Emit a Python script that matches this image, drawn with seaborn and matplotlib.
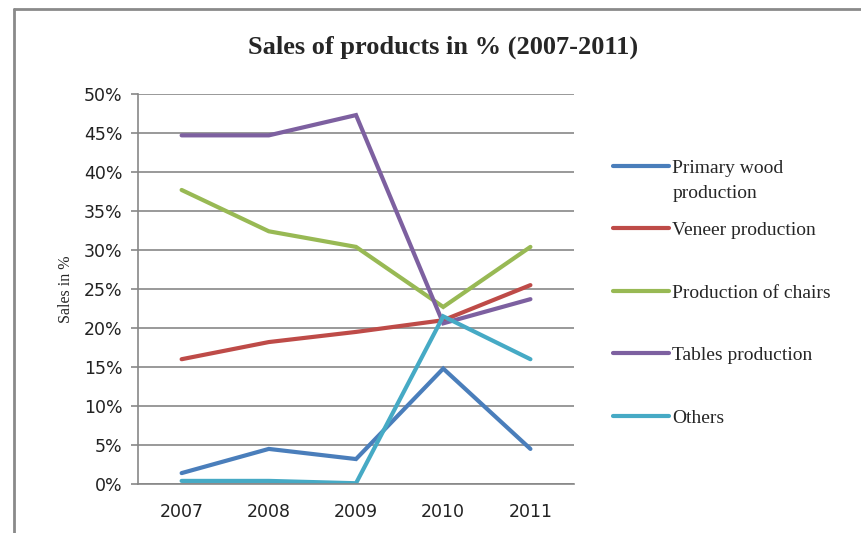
import pandas as pd
import seaborn as sns
import matplotlib.pyplot as plt
from matplotlib.lines import Line2D

# --- data ---
years = [2007, 2008, 2009, 2010, 2011]
series_names = ["Primary wood production", "Veneer production",
                "Production of chairs", "Tables production", "Others"]
primary_wood = [1.4, 4.5, 3.2, 14.8, 4.5]
veneer = [16.0, 18.2, 19.5, 21.0, 25.5]
chairs = [37.7, 32.4, 30.4, 22.7, 30.4]
tables = [44.7, 44.7, 47.3, 20.6, 23.7]
others = [0.4, 0.4, 0.1, 21.5, 16.0]
colors = ["#4A7EBB", "#BE4B48", "#98B954", "#7D60A0", "#46AAC5"]
y_ticks = list(range(0, 51, 5))

values = [primary_wood, veneer, chairs, tables, others]
rows = []
for name, vals in zip(series_names, values):
    for yr, v in zip(years, vals):
        rows.append({"Year": yr, "Sales": v, "Series": name})
df = pd.DataFrame(rows)

sns.set_style("white")
fig = plt.figure(figsize=(8.61, 5.33), dpi=100)
ax = fig.add_axes([0.1603, 0.0919, 0.5064, 0.7317])

sns.lineplot(data=df, x="Year", y="Sales", hue="Series",
             hue_order=series_names, palette=colors, linewidth=3,
             ax=ax, legend=False)
for ln in ax.get_lines():
    ln.set_solid_capstyle("round")
    ln.set_solid_joinstyle("miter")

grid_col = "#878787"
ax.set_ylim(0, 50)
ax.set_xlim(2006.5, 2011.5)
ax.set_yticks(y_ticks)
ax.set_yticklabels([f"{t}%" for t in y_ticks], fontsize=12.5, color="#222222",
                   family="DejaVu Sans")
ax.set_xticks(years)
ax.set_xticklabels([str(y) for y in years], fontsize=12.5, color="#222222",
                   family="DejaVu Sans")
ax.yaxis.grid(True, color=grid_col, linewidth=1.2)
ax.set_axisbelow(True)
for side in ["top", "right"]:
    ax.spines[side].set_visible(False)
for side in ["left", "bottom"]:
    ax.spines[side].set_color(grid_col)
    ax.spines[side].set_linewidth(1.2)
ax.tick_params(axis="y", left=True, length=5, width=1.2, color=grid_col, pad=6)
ax.tick_params(axis="x", bottom=False, pad=10)
ax.set_xlabel("")
ax.set_ylabel("Sales in %", family="Liberation Serif", fontsize=11.5, labelpad=7)

fig.text(0.5145, 0.912, "Sales of products in % (2007-2011)",
         family="Liberation Serif", weight="bold", fontsize=19,
         ha="center", va="center")

# legend: first label wraps onto a second line that sits in the gap below
leg_labels = ["Primary wood"] + series_names[1:]
handles = [Line2D([0], [0], color=c, linewidth=3) for c in colors]
leg_font = {"family": "Liberation Serif", "size": 14}
leg = fig.legend(handles, leg_labels, loc="upper left",
                 bbox_to_anchor=(0.6916, 0.7346), frameon=False,
                 prop=leg_font, handlelength=2.9, handletextpad=0.15,
                 labelspacing=2.31)

fig.canvas.draw()
bb = leg.get_texts()[0].get_window_extent().transformed(fig.transFigure.inverted())
fig.text(bb.x0, bb.y0 - 25 / 533, "production", fontdict=leg_font,
         ha="left", va="bottom")

# outer chart border (left and top only visible)
fig.add_artist(Line2D([14 / 861, 14 / 861], [0, 1 - 9 / 533], color="#8a8a8a",
                      linewidth=2, transform=fig.transFigure))
fig.add_artist(Line2D([14 / 861, 1], [1 - 9 / 533, 1 - 9 / 533], color="#8a8a8a",
                      linewidth=2, transform=fig.transFigure))

fig.savefig("out.png", dpi=100)
